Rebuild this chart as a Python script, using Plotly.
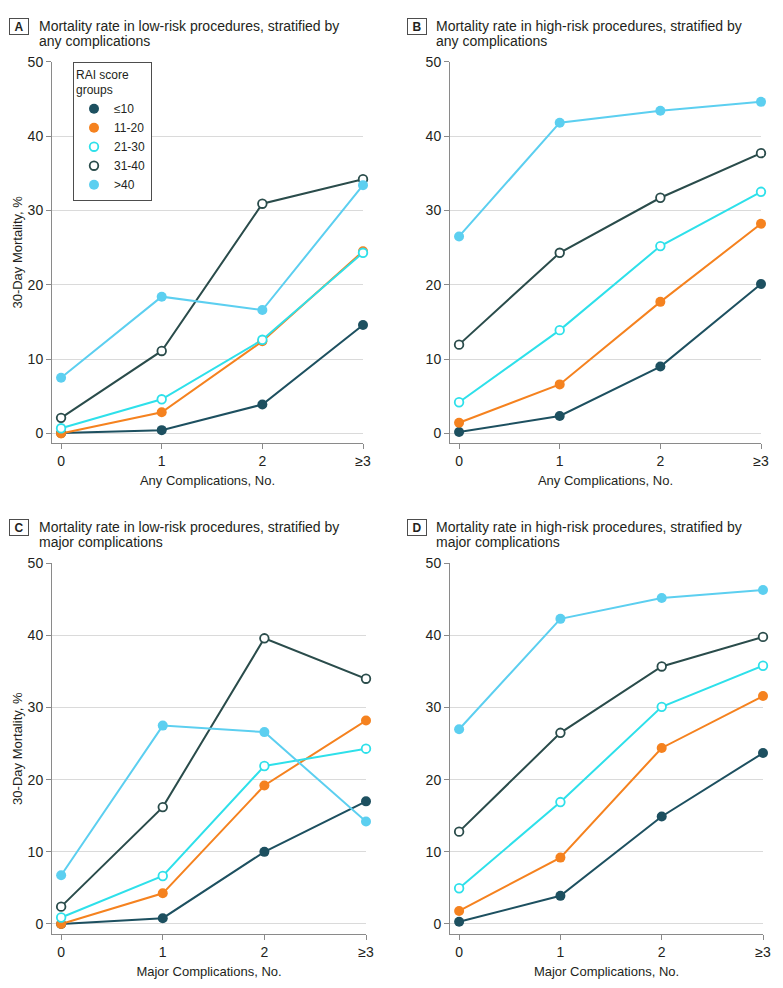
import plotly.graph_objects as go

W, H = 783, 988

# ---------------- data ----------------
x_vals = [0, 1, 2, 3]
x_labels = ['0', '1', '2', '≥3']
y_ticks = [0, 10, 20, 30, 40, 50]
groups = ['≤10', '11-20', '21-30', '31-40', '>40']

a_le10 = [0.05, 0.45, 3.9, 14.6]
a_11_20 = [0.0, 2.85, 12.4, 24.5]
a_21_30 = [0.7, 4.6, 12.6, 24.3]
a_31_40 = [2.1, 11.1, 30.9, 34.2]
a_gt40 = [7.5, 18.4, 16.6, 33.4]

b_le10 = [0.2, 2.35, 9.0, 20.1]
b_11_20 = [1.45, 6.6, 17.7, 28.2]
b_21_30 = [4.2, 13.9, 25.2, 32.5]
b_31_40 = [11.95, 24.3, 31.7, 37.7]
b_gt40 = [26.5, 41.8, 43.4, 44.6]

c_le10 = [0.0, 0.8, 10.0, 17.0]
c_11_20 = [0.0, 4.25, 19.2, 28.2]
c_21_30 = [0.9, 6.65, 21.9, 24.3]
c_31_40 = [2.4, 16.2, 39.6, 34.0]
c_gt40 = [6.75, 27.5, 26.6, 14.2]

d_le10 = [0.3, 3.9, 14.9, 23.7]
d_11_20 = [1.8, 9.2, 24.4, 31.6]
d_21_30 = [4.95, 16.9, 30.1, 35.8]
d_31_40 = [12.8, 26.5, 35.7, 39.8]
d_gt40 = [27.0, 42.3, 45.2, 46.3]

panel_letters = ['A', 'B', 'C', 'D']
panel_title_line1 = [
    'Mortality rate in low-risk procedures, stratified by',
    'Mortality rate in high-risk procedures, stratified by',
    'Mortality rate in low-risk procedures, stratified by',
    'Mortality rate in high-risk procedures, stratified by',
]
panel_title_line2 = ['any complications', 'any complications',
                     'major complications', 'major complications']
x_titles = ['Any Complications, No.', 'Any Complications, No.',
            'Major Complications, No.', 'Major Complications, No.']
y_title = '30-Day Mortality, %'
legend_title = 'RAI score<br>groups'

panels = [
    [a_le10, a_11_20, a_21_30, a_31_40, a_gt40],
    [b_le10, b_11_20, b_21_30, b_31_40, b_gt40],
    [c_le10, c_11_20, c_21_30, c_31_40, c_gt40],
    [d_le10, d_11_20, d_21_30, d_31_40, d_gt40],
]

# ---------------- styles ----------------
FONT = 'Liberation Sans, Arial, sans-serif'
TXT = '#231f20'
AXIS = '#8a8a8a'
GRID = '#dadada'
colors = ['#1d5060', '#f5821f', '#2ee0ea', '#2a4c4b', '#5ccff0']
filled = [True, True, False, False, True]

# pixel layouts: x0, x1, ytop, ybottom
boxes = [
    (52, 363, 61.7, 443),
    (450, 761, 61.7, 443),
    (52, 366, 563.3, 934),
    (450, 763, 563.3, 934),
]
y_mins = [-1.28, -1.28, -1.39, -1.39]
title_offsets = [(19.3, 37, 0), (416.7, 434.3, 0), (19.3, 37, 501), (416.7, 434.3, 501)]


def px_x(p):
    return p / W


def px_y(p):
    return 1 - p / H


fig = go.Figure()

for i, series in enumerate(panels):
    ax = '' if i == 0 else str(i + 1)
    # lines first
    for g, vals in enumerate(series):
        fig.add_trace(go.Scatter(
            x=x_vals, y=vals, mode='lines', name=groups[g],
            line=dict(color=colors[g], width=2),
            xaxis='x' + ax, yaxis='y' + ax, cliponaxis=False,
            showlegend=False, legendgroup=groups[g], hoverinfo='skip',
        ))
    # markers on top
    for g, vals in enumerate(series):
        col = colors[g]
        marker = dict(
            size=10 if filled[g] else 8.6,
            color=col if filled[g] else 'white',
            line=dict(color=col, width=0 if filled[g] else 1.8),
        )
        fig.add_trace(go.Scatter(
            x=x_vals, y=vals, mode='markers', name=groups[g], marker=marker,
            xaxis='x' + ax, yaxis='y' + ax, cliponaxis=False,
            showlegend=(i == 0), legendgroup=groups[g],
        ))

    x0, x1, yt, yb = boxes[i]
    xa = dict(
        domain=[px_x(x0), px_x(x1)], range=[-0.09, 3.0],
        tickmode='array', tickvals=x_vals, ticktext=x_labels,
        showgrid=False, zeroline=False, showline=True, linecolor=AXIS, linewidth=1,
        ticks='outside', ticklen=5, tickcolor=AXIS, tickwidth=1,
        tickfont=dict(family=FONT, size=14, color=TXT),
        title=dict(text=x_titles[i], font=dict(family=FONT, size=13, color=TXT), standoff=8),
        anchor='y' + ax, automargin=False, fixedrange=True,
    )
    ya = dict(
        domain=[px_y(yb), px_y(yt)], range=[y_mins[i], 50],
        tickmode='array', tickvals=y_ticks,
        showgrid=True, gridcolor=GRID, gridwidth=1, zeroline=False,
        showline=True, linecolor=AXIS, linewidth=1,
        ticks='outside', ticklen=5, tickcolor=AXIS, tickwidth=1,
        tickfont=dict(family=FONT, size=14, color=TXT),
        anchor='x' + ax, automargin=False, fixedrange=True,
    )
    if i in (0, 2):
        ya['title'] = dict(text=y_title, font=dict(family=FONT, size=13, color=TXT), standoff=2)
    fig.update_layout(**{'xaxis' + ax: xa, 'yaxis' + ax: ya})

    # panel headers
    bx, tx, off = title_offsets[i]
    fig.add_annotation(
        x=px_x(bx), y=px_y(26.7 + off), xref='paper', yref='paper',
        text='<b>' + panel_letters[i] + '</b>', showarrow=False,
        xanchor='center', yanchor='middle', width=16, height=13,
        borderpad=1, bordercolor='#4d4d4d', borderwidth=1, bgcolor='white',
        font=dict(family=FONT, size=12, color=TXT),
    )
    fig.add_annotation(
        x=px_x(tx), y=px_y(26.0 + off), xref='paper', yref='paper',
        text=panel_title_line1[i], showarrow=False, xanchor='left', yanchor='middle',
        font=dict(family=FONT, size=14, color=TXT),
    )
    fig.add_annotation(
        x=px_x(tx), y=px_y(41.2 + off), xref='paper', yref='paper',
        text=panel_title_line2[i], showarrow=False, xanchor='left', yanchor='middle',
        font=dict(family=FONT, size=14, color=TXT),
    )

fig.update_layout(
    width=W, height=H, margin=dict(l=0, r=0, t=0, b=0),
    paper_bgcolor='white', plot_bgcolor='white',
    font=dict(family=FONT, color=TXT),
    showlegend=True,
    legend=dict(
        x=px_x(73), y=px_y(62), xanchor='left', yanchor='top',
        bgcolor='white', bordercolor='#4d4d4d', borderwidth=1,
        font=dict(family=FONT, size=12, color=TXT),
        title=dict(text=legend_title, font=dict(family=FONT, size=12, color=TXT)),
        tracegroupgap=0, itemwidth=30,
    ),
)

fig.write_html('out.html', config={'displayModeBar': False},
               post_script="document.body.style.margin='0';")
